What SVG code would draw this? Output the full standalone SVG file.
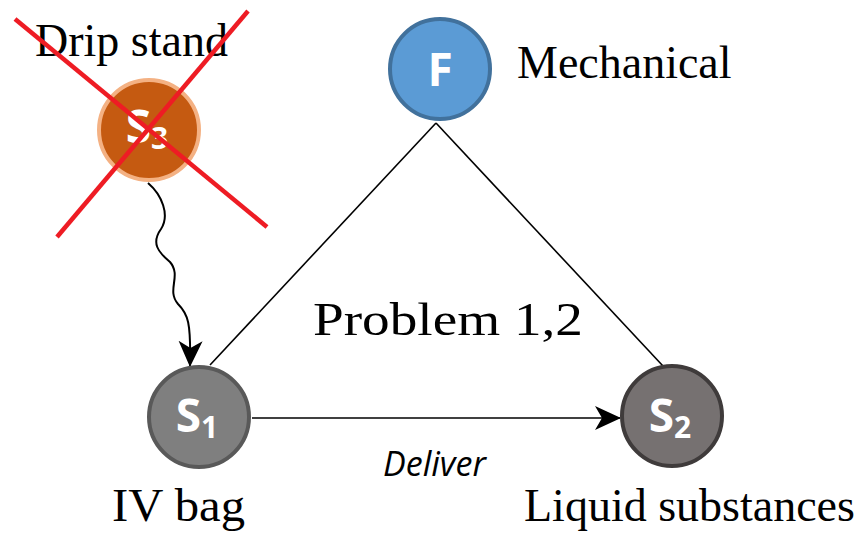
<svg xmlns="http://www.w3.org/2000/svg" width="864" height="533" viewBox="0 0 864 533">
<style>
.lbl{font-family:"Liberation Serif","Times New Roman",serif;font-size:46px;fill:#000}
.nt{font-family:"Open Sans","Liberation Sans",sans-serif;font-weight:bold;fill:#fff}
.sub{font-size:30px}
.ln{stroke:#000;stroke-width:1.6;fill:none}
.x{stroke:#ee1c24;stroke-width:4.5;stroke-linecap:butt}
</style>
<defs>
<marker id="ah" viewBox="0 0 26 26" refX="25" refY="13" markerWidth="26" markerHeight="26" markerUnits="userSpaceOnUse" orient="auto">
<path d="M0,1 L26,13 L0,25 L7,13 Z" fill="#000"/>
</marker>
</defs>
<g id="connectors">
<line class="ln" x1="436" y1="123" x2="210" y2="365"/>
<line class="ln" x1="436" y1="123" x2="663" y2="366"/>
<line class="ln" x1="252" y1="418" x2="620" y2="418" marker-end="url(#ah)"/>
<path class="ln" style="stroke-width:2" d="M148,183 C162,195 170,215 161,229 C151,243 158,252 170,262 C182,276 166,290 178,304 C188,314 191,322 190,366" marker-end="url(#ah)"/>
</g>
<g id="node-F">
<circle cx="440" cy="69" r="50" fill="#5b9bd5" stroke="#41719c" stroke-width="4"/>
<text class="nt" x="440" y="86" font-size="46" text-anchor="middle">F</text>
<text class="lbl" x="517" y="78">Mechanical</text>
</g>
<g id="node-S3">
<circle cx="149" cy="130" r="50" fill="#c55a11" stroke="#f4b183" stroke-width="4"/>
<text class="nt" x="147" y="143" text-anchor="middle"><tspan font-size="46">S</tspan><tspan class="sub" dy="6">3</tspan></text>
<text class="lbl" x="35" y="56">Drip stand</text>
<line class="x" x1="15" y1="19" x2="267" y2="227"/>
<line class="x" x1="248" y1="11" x2="57" y2="237"/>
</g>
<g id="node-S1">
<circle cx="199" cy="417" r="50" fill="#7f7f7f" stroke="#595959" stroke-width="4"/>
<text class="nt" x="197" y="432" text-anchor="middle"><tspan font-size="46">S</tspan><tspan class="sub" dy="6">1</tspan></text>
<text class="lbl" x="112" y="521" textLength="133" lengthAdjust="spacingAndGlyphs">IV bag</text>
</g>
<g id="node-S2">
<circle cx="672" cy="416" r="50" fill="#767171" stroke="#3f3b3b" stroke-width="4"/>
<text class="nt" x="670" y="432" text-anchor="middle"><tspan font-size="46">S</tspan><tspan class="sub" dy="6">2</tspan></text>
<text class="lbl" x="524" y="521">Liquid substances</text>
</g>
<text class="lbl" x="313" y="335" font-size="54" textLength="270" lengthAdjust="spacingAndGlyphs">Problem 1,2</text>
<text x="383" y="476" font-family="Open Sans, Liberation Sans, sans-serif" font-style="italic" font-size="34" fill="#000">Deliver</text>
</svg>
